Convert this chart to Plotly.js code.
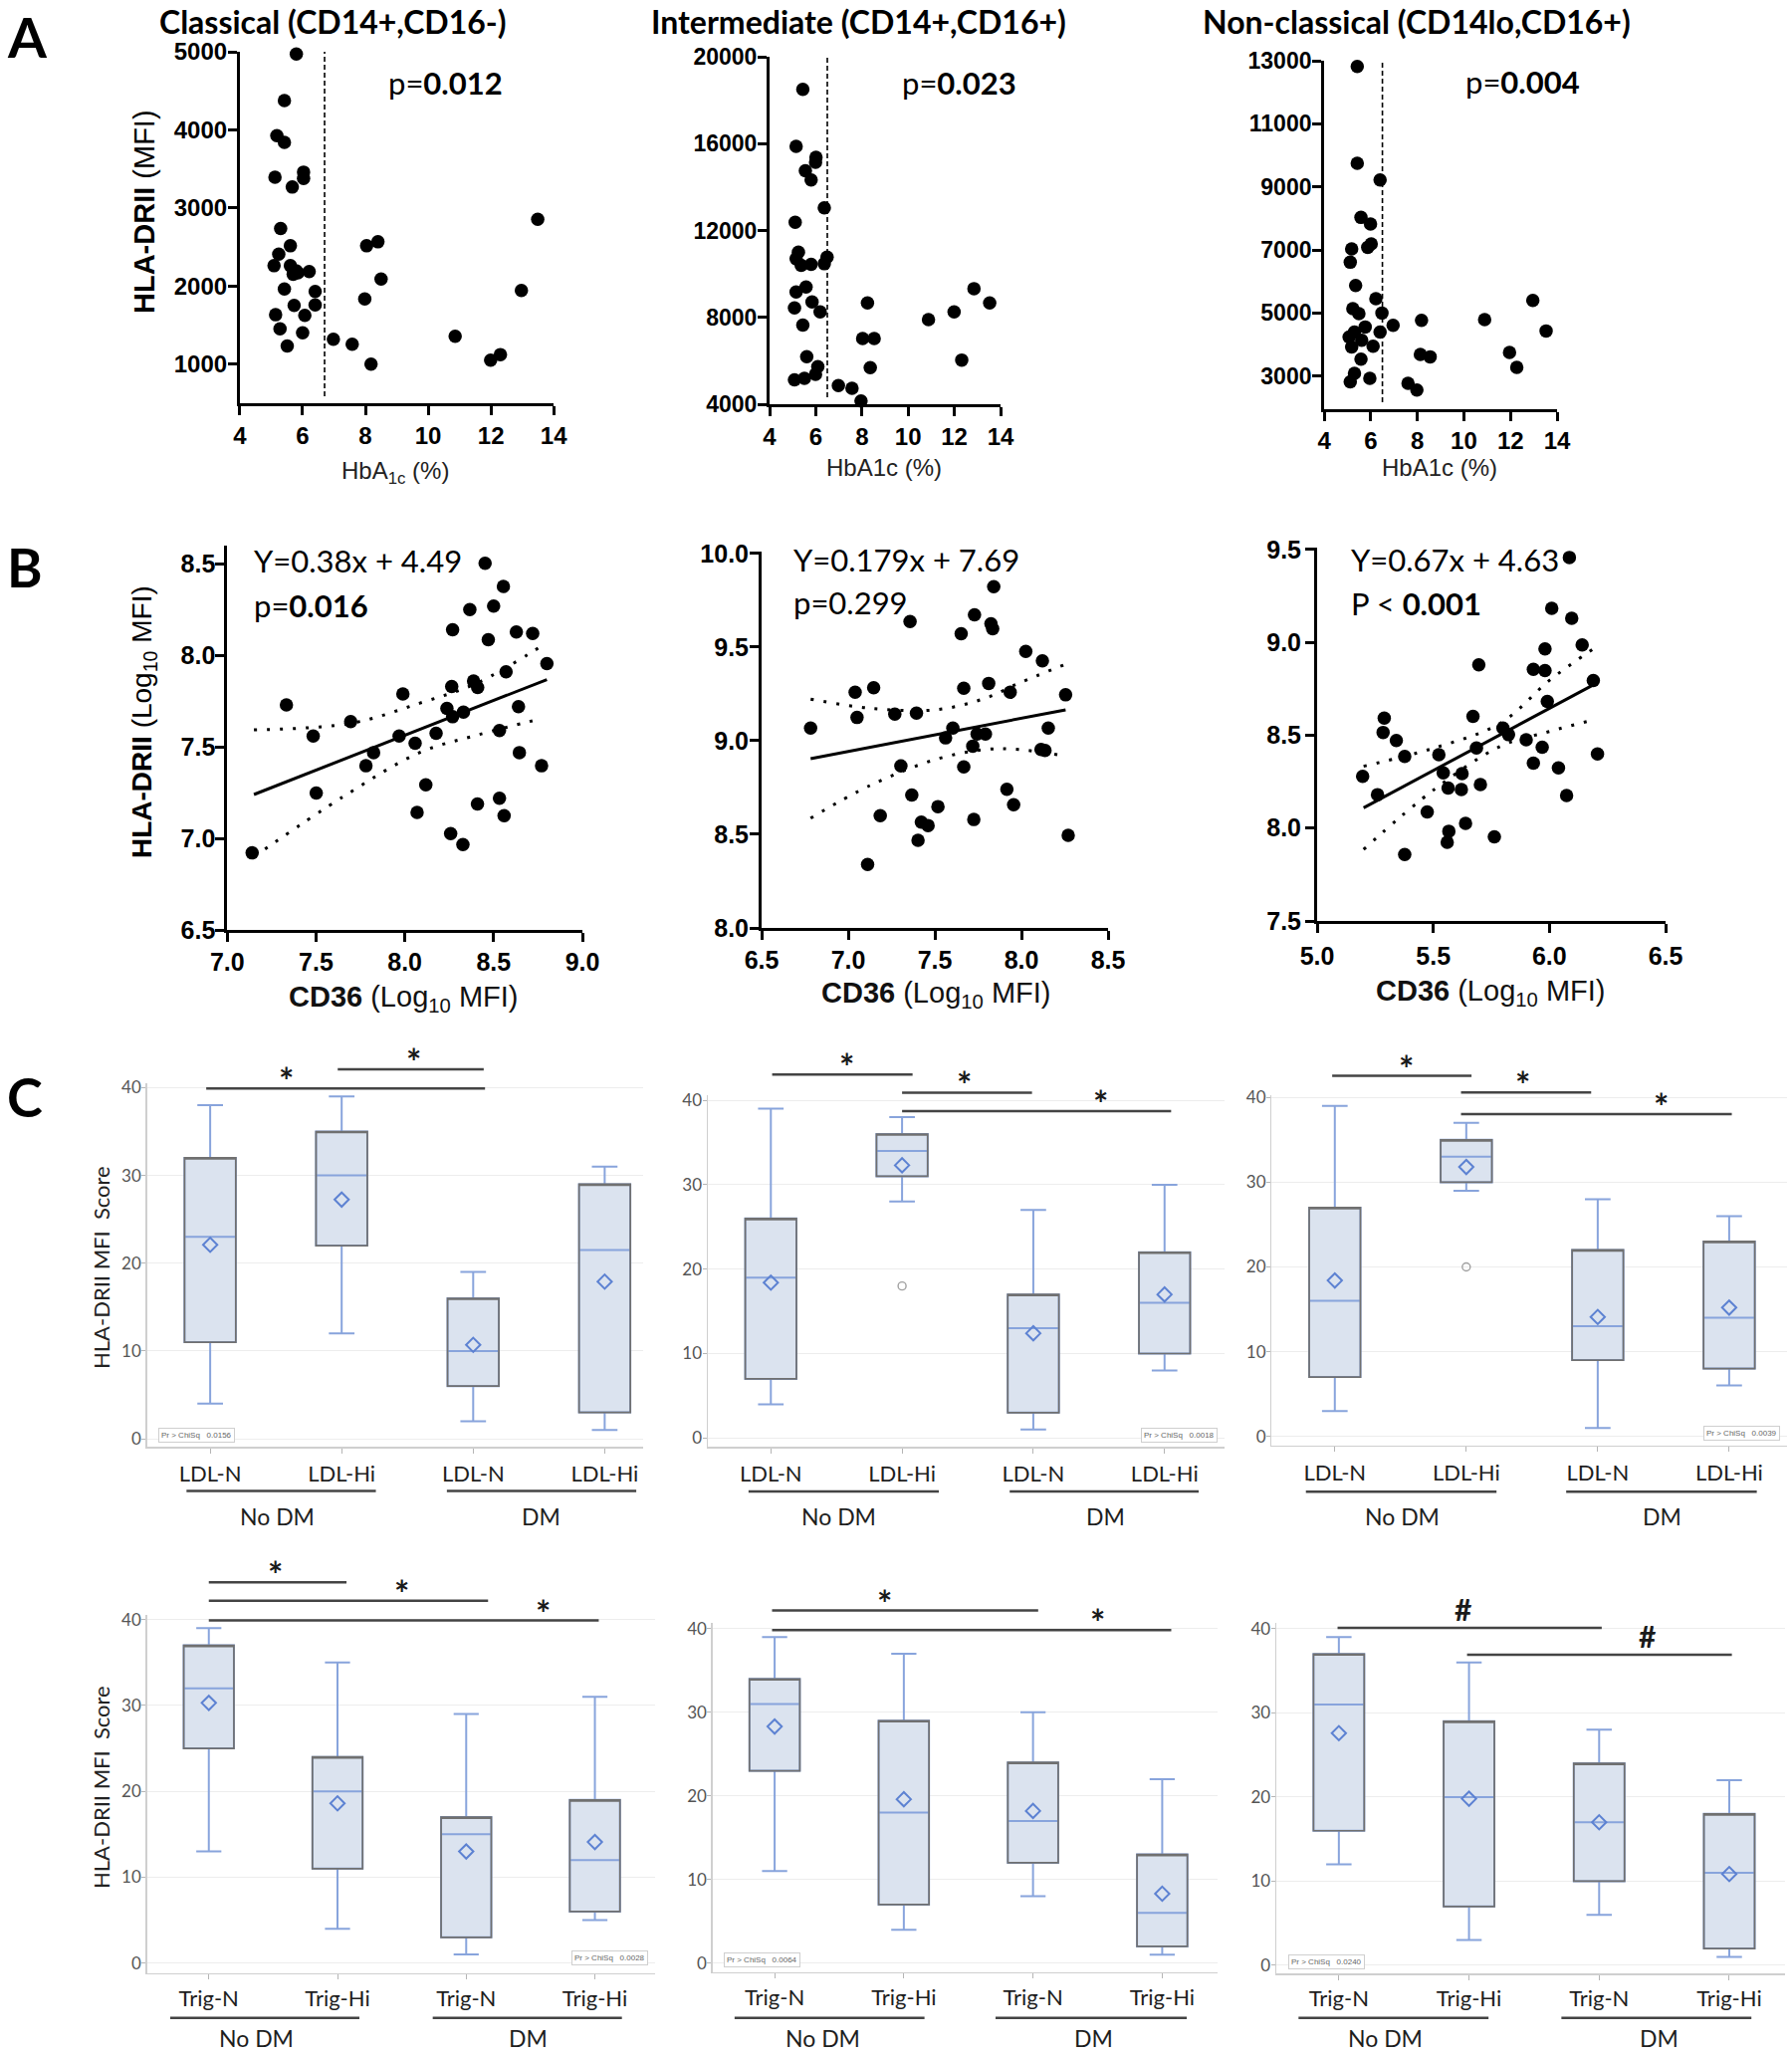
<!DOCTYPE html>
<html><head><meta charset="utf-8">
<script src="https://cdn.plot.ly/plotly-3.0.1.min.js"></script>
<style>html,body{margin:0;padding:0;background:#fff}#chart{width:1800px;height:2062px}</style>
</head><body><div id="chart"></div>
<script>
// ================= DATA =================
const subsetTitles = ['Classical (CD14+,CD16-)', 'Intermediate (CD14+,CD16+)', 'Non-classical (CD14lo,CD16+)'];
const A_pValues = ['0.012', '0.023', '0.004'];
const A_cutoff = [6.7, 6.5, 6.5];

const A1_hba1c = [5.80,5.42,5.18,5.42,5.12,6.03,6.03,5.67,5.30,5.61,5.24,5.09,5.61,5.79,6.21,5.42,6.40,5.73,6.40,5.14,6.07,5.28,6.00,5.51,6.98,7.58,8.18,7.98,8.04,8.40,8.50,10.86,11.99,12.30,12.97,13.49,5.70,5.85];
const A1_mfi   = [4970,4376,3926,3841,3395,3459,3378,3268,2737,2516,2410,2261,2261,2197,2185,1964,1930,1752,1760,1633,1624,1454,1403,1234,1318,1255,1000,1836,2516,2567,2091,1357,1051,1123,1943,2856,2150,2170];
const A2_hba1c = [5.44,5.15,6.01,5.99,5.55,5.80,6.37,5.11,5.25,5.15,5.37,5.80,6.49,6.37,5.15,5.58,5.08,5.84,6.19,5.44,5.61,6.09,5.08,5.51,5.99,6.98,7.57,7.96,8.24,8.03,8.53,8.36,10.88,11.99,12.32,12.85,13.53];
const A2_mfi   = [18500,15870,15365,15136,14754,14325,13040,12382,11006,10700,10394,10440,10776,10470,9170,9400,8436,8710,8250,7640,6187,5728,5120,5193,5376,4856,4734,4153,8666,7030,7030,5683,7900,8250,6034,9323,8666];
const A3_hba1c = [5.42,5.42,6.40,5.58,5.99,6.02,5.87,5.18,5.12,5.35,6.22,12.96,5.23,5.49,6.48,6.96,8.18,10.89,13.53,5.76,5.30,5.07,6.40,5.61,5.18,6.10,5.58,8.13,8.55,11.96,12.27,5.30,5.12,5.96,7.60,7.98];
const A3_mfi   = [12821,9747,9221,8032,7821,7189,7084,7032,6611,5874,5453,5400,5137,4979,5000,4611,4768,4789,4432,4558,4400,4242,4400,4137,3926,3947,3537,3684,3611,3747,3274,3084,2821,2926,2768,2558];

const B_equations = ['Y=0.38x + 4.49', 'Y=0.179x + 7.69', 'Y=0.67x + 4.63'];
const B_pPrefix = ['p=', 'p=', 'P &lt; '];
const B_pValues = ['0.016', '0.299', '0.001'];
const B_pBold = [true, false, true];

const B1_cd36 = [8.452,8.555,8.366,8.50,8.269,8.47,8.628,8.72,8.80,8.57,8.264,8.387,8.41,7.989,8.237,8.33,8.269,8.64,7.333,7.695,7.484,7.968,8.176,8.058,8.533,7.824,7.781,8.645,8.77,8.118,7.501,8.069,8.409,8.533,8.559,8.258,8.327,7.14];
const B1_hla  = [8.504,8.377,8.25,8.27,8.14,8.086,8.128,8.12,7.955,7.91,7.83,7.86,7.825,7.789,7.71,7.69,7.665,7.72,7.729,7.638,7.56,7.56,7.574,7.52,7.589,7.469,7.397,7.469,7.397,7.293,7.248,7.142,7.188,7.22,7.124,7.026,6.966,6.921];
const B2_cd36 = [7.84,7.729,7.824,7.834,7.357,7.652,8.025,8.121,7.04,7.147,7.667,7.811,7.935,8.255,7.051,7.269,7.394,6.783,7.604,7.562,8.155,7.744,7.792,7.719,8.113,8.136,7.304,7.667,7.367,7.916,7.955,7.185,7.518,7.725,7.422,7.461,7.403,8.27,7.112];
const B2_hla  = [9.823,9.672,9.624,9.598,9.636,9.571,9.477,9.426,9.259,9.283,9.28,9.306,9.259,9.245,9.124,9.142,9.147,9.068,9.068,9.015,9.068,9.036,9.036,8.971,8.953,8.948,8.865,8.86,8.71,8.741,8.658,8.6,8.648,8.579,8.565,8.547,8.468,8.494,8.339];
const B3_cd36 = [6.086,6.01,6.096,6.141,5.981,5.696,5.931,5.981,6.189,5.991,5.289,5.284,5.341,5.671,5.377,5.524,5.686,5.80,5.824,5.90,5.969,5.931,6.207,6.039,5.196,5.543,5.624,5.564,5.621,5.703,5.26,6.074,5.474,5.639,5.567,5.56,5.763,5.377];
const B3_hla  = [9.457,9.183,9.129,8.986,8.965,8.879,8.855,8.848,8.795,8.682,8.592,8.515,8.472,8.601,8.386,8.395,8.431,8.538,8.503,8.476,8.435,8.35,8.399,8.324,8.279,8.297,8.293,8.216,8.207,8.234,8.18,8.175,8.087,8.025,7.983,7.924,7.953,7.858];

// fitted lines (end points) and 95% confidence bands
const B1_fitX = [7.15, 8.80], B1_fitY = [7.24, 7.868];
const B2_fitX = [6.783, 8.255], B2_fitY = [8.904, 9.165];
const B3_fitX = [5.20, 6.189], B3_fitY = [8.109, 8.771];
const B1_upX = [7.15, 7.70, 8.086, 8.409, 8.80], B1_up = [7.593, 7.63, 7.74, 7.85, 8.07];
const B1_loX = [7.15, 7.656, 8.086, 8.409, 8.774], B1_lo = [6.90, 7.23, 7.47, 7.565, 7.656];
const B2_upX = [6.783, 7.122, 7.505, 7.792, 7.983, 8.251], B2_up = [9.222, 9.174, 9.165, 9.227, 9.306, 9.407];
const B2_loX = [6.783, 7.122, 7.505, 7.792, 7.983, 8.232], B2_lo = [8.586, 8.759, 8.90, 8.953, 8.953, 8.921];
const B3_upX = [5.20, 5.503, 5.789, 6.003, 6.203], B3_up = [8.333, 8.431, 8.565, 8.798, 8.977];
const B3_loX = [5.20, 5.503, 5.789, 6.003, 6.189], B3_lo = [7.885, 8.207, 8.44, 8.521, 8.583];

const C_ldlCategories  = ['LDL-N', 'LDL-Hi', 'LDL-N', 'LDL-Hi'];
const C_trigCategories = ['Trig-N', 'Trig-Hi', 'Trig-N', 'Trig-Hi'];
const C_groups = ['No DM', 'DM'];
const C_yTitle = 'HLA-DRII MFI  Score';
const C_chiSq = ['0.0156', '0.0018', '0.0039', '0.0028', '0.0064', '0.0240'];

const C1_lo = [4, 12, 2, 1],  C1_q1 = [11, 22, 6, 3],  C1_med = [23, 30, 10, 21.5], C1_q3 = [32, 35, 16, 29], C1_hi = [38, 39, 19, 31], C1_mean = [22.1, 27.25, 10.7, 17.9];
const C2_lo = [4, 28, 1, 8],  C2_q1 = [7, 31, 3, 10],  C2_med = [19, 34, 13, 16],   C2_q3 = [26, 36, 17, 22], C2_hi = [39, 38, 27, 30], C2_mean = [18.4, 32.3, 12.4, 17.0];
const C3_lo = [3, 29, 1, 6],  C3_q1 = [7, 30, 9, 8],   C3_med = [16, 33, 13, 14],   C3_q3 = [27, 35, 22, 23], C3_hi = [39, 37, 28, 26], C3_mean = [18.4, 31.8, 14.1, 15.2];
const C4_lo = [13, 4, 1, 5],  C4_q1 = [25, 11, 3, 6],  C4_med = [32, 20, 15, 12],   C4_q3 = [37, 24, 17, 19], C4_hi = [39, 35, 29, 31], C4_mean = [30.3, 18.6, 13.0, 14.1];
const C5_lo = [11, 4, 8, 1],  C5_q1 = [23, 7, 12, 2],  C5_med = [31, 18, 17, 6],    C5_q3 = [34, 29, 24, 13], C5_hi = [39, 37, 30, 22], C5_mean = [28.3, 19.6, 18.2, 8.3];
const C6_lo = [12, 3, 6, 1],  C6_q1 = [16, 7, 10, 2],  C6_med = [31, 20, 17, 11],   C6_q3 = [37, 29, 24, 18], C6_hi = [39, 36, 28, 22], C6_mean = [27.6, 19.8, 17.0, 10.85];
const C2_outX = [1], C2_outY = [18];
const C3_outX = [1], C3_outY = [20];

// significance brackets: from / to (category position), level (score units), label
const C1_sigFrom = [-0.03, 0.97], C1_sigTo = [2.09, 2.08], C1_sigLevel = [39.9, 42.1], C1_sigLabelX = [0.575, 1.55], C1_sigLabel = ['*', '*'];
const C2_sigFrom = [0.01, 1.0, 1.0], C2_sigTo = [1.08, 1.99, 3.05], C2_sigLevel = [43.06, 40.9, 38.7], C2_sigLabelX = [0.58, 1.47, 2.51], C2_sigLabel = ['*', '*', '*'];
const C3_sigFrom = [-0.02, 0.96, 0.96], C3_sigTo = [1.04, 1.95, 3.02], C3_sigLevel = [42.55, 40.59, 38.04], C3_sigLabelX = [0.54, 1.43, 2.48], C3_sigLabel = ['*', '*', '*'];
const C4_sigFrom = [0, 0, 0], C4_sigTo = [1.07, 2.17, 3.03], C4_sigLevel = [44.33, 42.2, 39.9], C4_sigLabelX = [0.52, 1.5, 2.6], C4_sigLabel = ['*', '*', '*'];
const C5_sigFrom = [-0.02, -0.02], C5_sigTo = [2.04, 3.07], C5_sigLevel = [42.18, 39.84], C5_sigLabelX = [0.85, 2.5], C5_sigLabel = ['*', '*'];
const C6_sigFrom = [-0.01, 0.985], C6_sigTo = [2.02, 3.02], C6_sigLevel = [40.1, 36.9], C6_sigLabelX = [0.955, 2.37], C6_sigLabel = ['#', '#'];

// ================= LAYOUT HELPERS =================
const W = 1800, H = 2062;
const px = v => v / W, py = v => 1 - v / H;
const FONT_SANS = '"Liberation Sans", Arial, Helvetica, sans-serif';
const FONT_CAL = 'Lato, Carlito, Calibri, "Open Sans", sans-serif';

const layout = {
  width: W, height: H, margin: { l: 0, r: 0, t: 0, b: 0 },
  paper_bgcolor: '#ffffff', plot_bgcolor: 'rgba(0,0,0,0)',
  showlegend: false, boxmode: 'overlay', hovermode: false,
  annotations: [], shapes: []
};
const data = [];
let nAx = 0;
function makeSubplot(s) {
  nAx++;
  const sfx = nAx === 1 ? '' : String(nAx);
  const xName = 'x' + sfx, yName = 'y' + sfx;
  layout['xaxis' + sfx] = Object.assign({ domain: [px(s.x0), px(s.x1)], range: s.xr, anchor: yName, fixedrange: true }, s.xaxis);
  layout['yaxis' + sfx] = Object.assign({ domain: [py(s.y1), py(s.y0)], range: s.yr, anchor: xName, fixedrange: true }, s.yaxis);
  return { x: xName, y: yName, s: s };
}
function toPaper(sub, cx, v) {
  const s = sub.s;
  const fx = (cx - s.xr[0]) / (s.xr[1] - s.xr[0]);
  const fy = (v - s.yr[0]) / (s.yr[1] - s.yr[0]);
  return { x: px(s.x0 + fx * (s.x1 - s.x0)), y: py(s.y1 - fy * (s.y1 - s.y0)) };
}
function ann(text, x, y, o) {
  layout.annotations.push(Object.assign({ text: text, x: px(x), y: py(y), xref: 'paper', yref: 'paper', showarrow: false, xanchor: 'center', yanchor: 'middle' }, o || {}));
}
function gpAxis(tick0, dtick, fmt, standoff, size) {
  return {
    showline: true, linewidth: 3, linecolor: '#000', ticks: 'outside', ticklen: 9, tickwidth: 3, tickcolor: '#000',
    showgrid: false, zeroline: false, tickmode: 'linear', tick0: tick0, dtick: dtick, tickformat: fmt,
    exponentformat: 'none', separatethousands: false,
    ticklabelstandoff: standoff,
    tickfont: { family: FONT_SANS, size: size || 24, color: '#000', weight: 700 }
  };
}

// ================= PANEL A =================
const A_specs = [
  { x0: 240.9, x1: 556.2, y0: 52, y1: 405, xr: [4, 14], yr: [500, 5000], xaxis: gpAxis(4, 2, 'd', 0), yaxis: gpAxis(1000, 1000, 'd', -4) },
  { x0: 773, x1: 1005, y0: 57, y1: 406, xr: [4, 14], yr: [4000, 20000], xaxis: gpAxis(4, 2, 'd', 0), yaxis: gpAxis(4000, 4000, 'd', -4, 23) },
  { x0: 1330.1, x1: 1564, y0: 61, y1: 411, xr: [4, 14], yr: [1950, 13000], xaxis: gpAxis(4, 2, 'd', -1), yaxis: gpAxis(3000, 2000, 'd', -4, 23) }
];
const A_x = [A1_hba1c, A2_hba1c, A3_hba1c], A_y = [A1_mfi, A2_mfi, A3_mfi];
const A_titlePos = [[334.5, 22], [862, 22], [1423, 22]];
const A_pPos = [[447, 83], [963, 83], [1529, 82]];
const A_xTitle = ['HbA<sub>1c</sub> (%)', 'HbA1c (%)', 'HbA1c (%)'];
const A_xTitlePos = [[397, 474], [888, 469], [1446, 469]];
A_specs.forEach((s, i) => {
  const sub = makeSubplot(s);
  data.push({ type: 'scatter', mode: 'lines', xaxis: sub.x, yaxis: sub.y, x: [A_cutoff[i], A_cutoff[i]], y: [s.yr[0] + (s.yr[1] - s.yr[0]) * 0.02, s.yr[1]],
    line: { color: '#000', width: 1.6, dash: '5px,3px' } });
  data.push({ type: 'scatter', mode: 'markers', xaxis: sub.x, yaxis: sub.y, x: A_x[i], y: A_y[i], marker: { color: '#000', size: 13.5, line: { width: 0 } }, cliponaxis: false });
  ann('<b>' + subsetTitles[i] + '</b>', A_titlePos[i][0], A_titlePos[i][1], { font: { family: FONT_CAL, size: 32, color: '#000' } });
  ann('p=<b>' + A_pValues[i] + '</b>', A_pPos[i][0], A_pPos[i][1], { font: { family: FONT_CAL, size: 31, color: '#000' } });
  ann(A_xTitle[i], A_xTitlePos[i][0], A_xTitlePos[i][1], { font: { family: FONT_SANS, size: 24, color: '#222' } });
});
ann('<b>HLA-DRII</b> (MFI)', 145, 213, { textangle: -90, font: { family: FONT_SANS, size: 29, color: '#000' } });
ann('<b>A</b>', 5, 36, { xanchor: 'left', font: { family: FONT_CAL, size: 56, color: '#000' } });

// ================= PANEL B =================
const B_specs = [
  { x0: 228.3, x1: 585, y0: 548, y1: 934, xr: [7, 9], yr: [6.5, 8.6], xaxis: gpAxis(7, 0.5, '.1f', -1, 25), yaxis: gpAxis(6.5, 0.5, '.1f', -5, 25) },
  { x0: 765, x1: 1113, y0: 554, y1: 932, xr: [6.5, 8.5], yr: [8, 10.01], xaxis: gpAxis(6.5, 0.5, '.1f', -1, 25), yaxis: gpAxis(8, 0.5, '.1f', -4, 25) },
  { x0: 1323, x1: 1673, y0: 550, y1: 925, xr: [5, 6.5], yr: [7.5, 9.51], xaxis: gpAxis(5, 0.5, '.1f', 2, 25), yaxis: gpAxis(7.5, 0.5, '.1f', -1, 25) }
];
const B_x = [B1_cd36, B2_cd36, B3_cd36], B_y = [B1_hla, B2_hla, B3_hla];
const B_fitX = [B1_fitX, B2_fitX, B3_fitX], B_fitY = [B1_fitY, B2_fitY, B3_fitY];
const B_upX = [B1_upX, B2_upX, B3_upX], B_up = [B1_up, B2_up, B3_up];
const B_loX = [B1_loX, B2_loX, B3_loX], B_lo = [B1_lo, B2_lo, B3_lo];
const B_eqPos = [[253, 563, 608], [795, 562, 605], [1355, 562, 606]];
const B_xTitlePos = [[405, 1003], [940, 999], [1497, 997]];
B_specs.forEach((s, i) => {
  const sub = makeSubplot(s);
  const dotted = { color: '#000', width: 3, dash: '3px,10px', shape: 'spline' };
  data.push({ type: 'scatter', mode: 'lines', xaxis: sub.x, yaxis: sub.y, x: B_upX[i], y: B_up[i], line: dotted });
  data.push({ type: 'scatter', mode: 'lines', xaxis: sub.x, yaxis: sub.y, x: B_loX[i], y: B_lo[i], line: dotted });
  data.push({ type: 'scatter', mode: 'lines', xaxis: sub.x, yaxis: sub.y, x: B_fitX[i], y: B_fitY[i], line: { color: '#000', width: 3 } });
  data.push({ type: 'scatter', mode: 'markers', xaxis: sub.x, yaxis: sub.y, x: B_x[i], y: B_y[i], marker: { color: '#000', size: 13.5, line: { width: 0 } }, cliponaxis: false });
  ann(B_equations[i], B_eqPos[i][0], B_eqPos[i][1], { xanchor: 'left', font: { family: FONT_CAL, size: 31, color: '#000' } });
  const pv = B_pBold[i] ? '<b>' + B_pValues[i] + '</b>' : B_pValues[i];
  ann(B_pPrefix[i] + pv, B_eqPos[i][0], B_eqPos[i][2], { xanchor: 'left', font: { family: FONT_CAL, size: 31, color: '#000' } });
  ann('<b>CD36</b> (Log<sub>10</sub> MFI)', B_xTitlePos[i][0], B_xTitlePos[i][1], { font: { family: FONT_SANS, size: 29, color: '#111' } });
});
ann('<b>HLA-DRII</b> (Log<sub>10</sub> MFI)', 144, 725, { textangle: -90, font: { family: FONT_SANS, size: 28, color: '#000' } });
ann('<b>B</b>', 5, 569, { xanchor: 'left', font: { family: FONT_CAL, size: 54, color: '#000' } });

// ================= PANEL C =================
function cAxes(cats, standoff) {
  return {
    xaxis: { showline: true, linecolor: '#cfcfcf', linewidth: 1.5, ticks: 'outside', ticklen: 5, tickwidth: 1, tickcolor: '#b5b5b5',
      showgrid: false, zeroline: false, tickmode: 'array', tickvals: [0, 1, 2, 3], ticktext: cats, ticklabelstandoff: standoff,
      tickfont: { family: FONT_CAL, size: 22, color: '#1e1e1e' } },
    yaxis: { showline: true, linecolor: '#cfcfcf', linewidth: 1.5, ticks: 'outside', ticklen: 4, tickwidth: 1, tickcolor: '#b5b5b5',
      showgrid: true, gridcolor: '#ededed', gridwidth: 1, zeroline: false, tickmode: 'array', tickvals: [0, 10, 20, 30, 40],
      ticklabelstandoff: -3, tickfont: { family: FONT_CAL, size: 17, color: '#555' } }
  };
}
const C_specs = [
  { x0: 147.7, x1: 645.7, y0: 1088, y1: 1453, xr: [-0.48, 3.29], yr: [-0.9, 40.5], cats: C_ldlCategories, so: 2, gy: 1497.5, gly: 1523, spans: [[-0.18, 1.26], [1.80, 3.24]], glx: [0.51, 2.52], chi: [197, 1441] },
  { x0: 711, x1: 1230.4, y0: 1100, y1: 1453.3, xr: [-0.48, 3.46], yr: [-1.06, 40.6], cats: C_ldlCategories, so: 2, gy: 1498, gly: 1523, spans: [[-0.17, 1.28], [1.82, 3.26]], glx: [0.52, 2.55], chi: [1184, 1441] },
  { x0: 1277.4, x1: 1795, y0: 1100, y1: 1451.7, xr: [-0.48, 3.44], yr: [-1.06, 40.27], cats: C_ldlCategories, so: 2, gy: 1498.3, gly: 1523, spans: [[-0.22, 1.23], [1.76, 3.21]], glx: [0.51, 2.49], chi: [1749, 1439] },
  { x0: 147.7, x1: 658.3, y0: 1621.7, y1: 1981.7, xr: [-0.48, 3.47], yr: [-1.16, 40.58], cats: C_trigCategories, so: 0, gy: 2026.7, gly: 2047, spans: [[-0.30, 1.17], [1.74, 3.21]], glx: [0.37, 2.48], chi: [612, 1966] },
  { x0: 715.8, x1: 1223.2, y0: 1630, y1: 1980.7, xr: [-0.48, 3.43], yr: [-1.07, 40.7], cats: C_trigCategories, so: 0, gy: 2026.7, gly: 2047, spans: [[-0.31, 1.16], [1.71, 3.19]], glx: [0.37, 2.47], chi: [765, 1968] },
  { x0: 1282.1, x1: 1793.2, y0: 1630, y1: 1982.3, xr: [-0.48, 3.43], yr: [-0.99, 40.7], cats: C_trigCategories, so: 0, gy: 2026.7, gly: 2047, spans: [[-0.31, 1.15], [1.71, 3.17]], glx: [0.36, 2.46], chi: [1332, 1970] }
];
const C_stats = [
  { lo: C1_lo, q1: C1_q1, med: C1_med, q3: C1_q3, hi: C1_hi, mean: C1_mean },
  { lo: C2_lo, q1: C2_q1, med: C2_med, q3: C2_q3, hi: C2_hi, mean: C2_mean, ox: C2_outX, oy: C2_outY },
  { lo: C3_lo, q1: C3_q1, med: C3_med, q3: C3_q3, hi: C3_hi, mean: C3_mean, ox: C3_outX, oy: C3_outY },
  { lo: C4_lo, q1: C4_q1, med: C4_med, q3: C4_q3, hi: C4_hi, mean: C4_mean },
  { lo: C5_lo, q1: C5_q1, med: C5_med, q3: C5_q3, hi: C5_hi, mean: C5_mean },
  { lo: C6_lo, q1: C6_q1, med: C6_med, q3: C6_q3, hi: C6_hi, mean: C6_mean }
];
const C_sig = [
  [C1_sigFrom, C1_sigTo, C1_sigLevel, C1_sigLabelX, C1_sigLabel],
  [C2_sigFrom, C2_sigTo, C2_sigLevel, C2_sigLabelX, C2_sigLabel],
  [C3_sigFrom, C3_sigTo, C3_sigLevel, C3_sigLabelX, C3_sigLabel],
  [C4_sigFrom, C4_sigTo, C4_sigLevel, C4_sigLabelX, C4_sigLabel],
  [C5_sigFrom, C5_sigTo, C5_sigLevel, C5_sigLabelX, C5_sigLabel],
  [C6_sigFrom, C6_sigTo, C6_sigLevel, C6_sigLabelX, C6_sigLabel]
];
C_specs.forEach((s, i) => {
  const ax = cAxes(s.cats, s.so);
  s.xaxis = ax.xaxis; s.yaxis = ax.yaxis;
  const sub = makeSubplot(s);
  const st = C_stats[i];
  const pos = [0, 1, 2, 3];
  data.push({ type: 'box', orientation: 'v', xaxis: sub.x, yaxis: sub.y, x: pos, q1: st.q1, median: st.med, q3: st.q3,
    lowerfence: st.lo, upperfence: st.hi, boxpoints: false, width: 0.39, whiskerwidth: 0.5,
    fillcolor: '#dbe3ef', line: { color: '#88a4dc', width: 2 } });
  data.push({ type: 'box', orientation: 'v', xaxis: sub.x, yaxis: sub.y, x: pos, q1: st.q1, median: st.q3, q3: st.q3,
    lowerfence: st.q1, upperfence: st.q3, boxpoints: false, width: 0.39, whiskerwidth: 0,
    fillcolor: 'rgba(0,0,0,0)', line: { color: '#707070', width: 1.7 } });
  data.push({ type: 'scatter', mode: 'markers', xaxis: sub.x, yaxis: sub.y, x: pos, y: st.mean,
    marker: { symbol: 'diamond-open', size: 11, color: '#5d82d2', line: { width: 2, color: '#5d82d2' } } });
  if (st.ox) {
    data.push({ type: 'scatter', mode: 'markers', xaxis: sub.x, yaxis: sub.y, x: st.ox, y: st.oy,
      marker: { symbol: 'circle-open', size: 8, color: '#a0a0a0', line: { width: 1.4, color: '#a0a0a0' } } });
  }
  // significance brackets
  const sg = C_sig[i];
  for (let k = 0; k < sg[0].length; k++) {
    const a = toPaper(sub, sg[0][k], sg[2][k]), b = toPaper(sub, sg[1][k], sg[2][k]);
    layout.shapes.push({ type: 'line', xref: 'paper', yref: 'paper', x0: a.x, x1: b.x, y0: a.y, y1: b.y, line: { color: '#444', width: 2.5 } });
    const l = toPaper(sub, sg[3][k], sg[2][k]);
    const isStar = sg[4][k] === '*';
    layout.annotations.push({ text: '<b>' + sg[4][k] + '</b>', x: l.x, y: l.y, xref: 'paper', yref: 'paper', showarrow: false, xanchor: 'center', yanchor: 'middle',
      yshift: isStar ? 8 : 19, font: { family: FONT_CAL, size: isStar ? 36 : 30, color: '#1a1a1a' } });
  }
  // group lines + labels
  s.spans.forEach((sp, g) => {
    const a = toPaper(sub, sp[0], 0), b = toPaper(sub, sp[1], 0);
    layout.shapes.push({ type: 'line', xref: 'paper', yref: 'paper', x0: a.x, x1: b.x, y0: py(s.gy), y1: py(s.gy), line: { color: '#444', width: 2.5 } });
    const c = toPaper(sub, s.glx[g], 0);
    layout.annotations.push({ text: C_groups[g], x: c.x, y: py(s.gly), xref: 'paper', yref: 'paper', showarrow: false, xanchor: 'center', yanchor: 'middle',
      font: { family: FONT_CAL, size: 23, color: '#1e1e1e' } });
  });
  // chi-square inset
  ann('Pr &gt; ChiSq   ' + C_chiSq[i], s.chi[0], s.chi[1], { font: { family: FONT_SANS, size: 8, color: '#666' }, bordercolor: '#cfcfcf', borderwidth: 1, borderpad: 2, bgcolor: '#fff' });
});
ann(C_yTitle, 101, 1273, { textangle: -90, font: { family: FONT_CAL, size: 22, color: '#222' } });
ann(C_yTitle, 101, 1795, { textangle: -90, font: { family: FONT_CAL, size: 22, color: '#222' } });
ann('<b>C</b>', 5, 1101, { xanchor: 'left', font: { family: FONT_CAL, size: 54, color: '#000' } });

Plotly.newPlot('chart', data, layout, { staticPlot: true, displayModeBar: false });
</script>
</body></html>
